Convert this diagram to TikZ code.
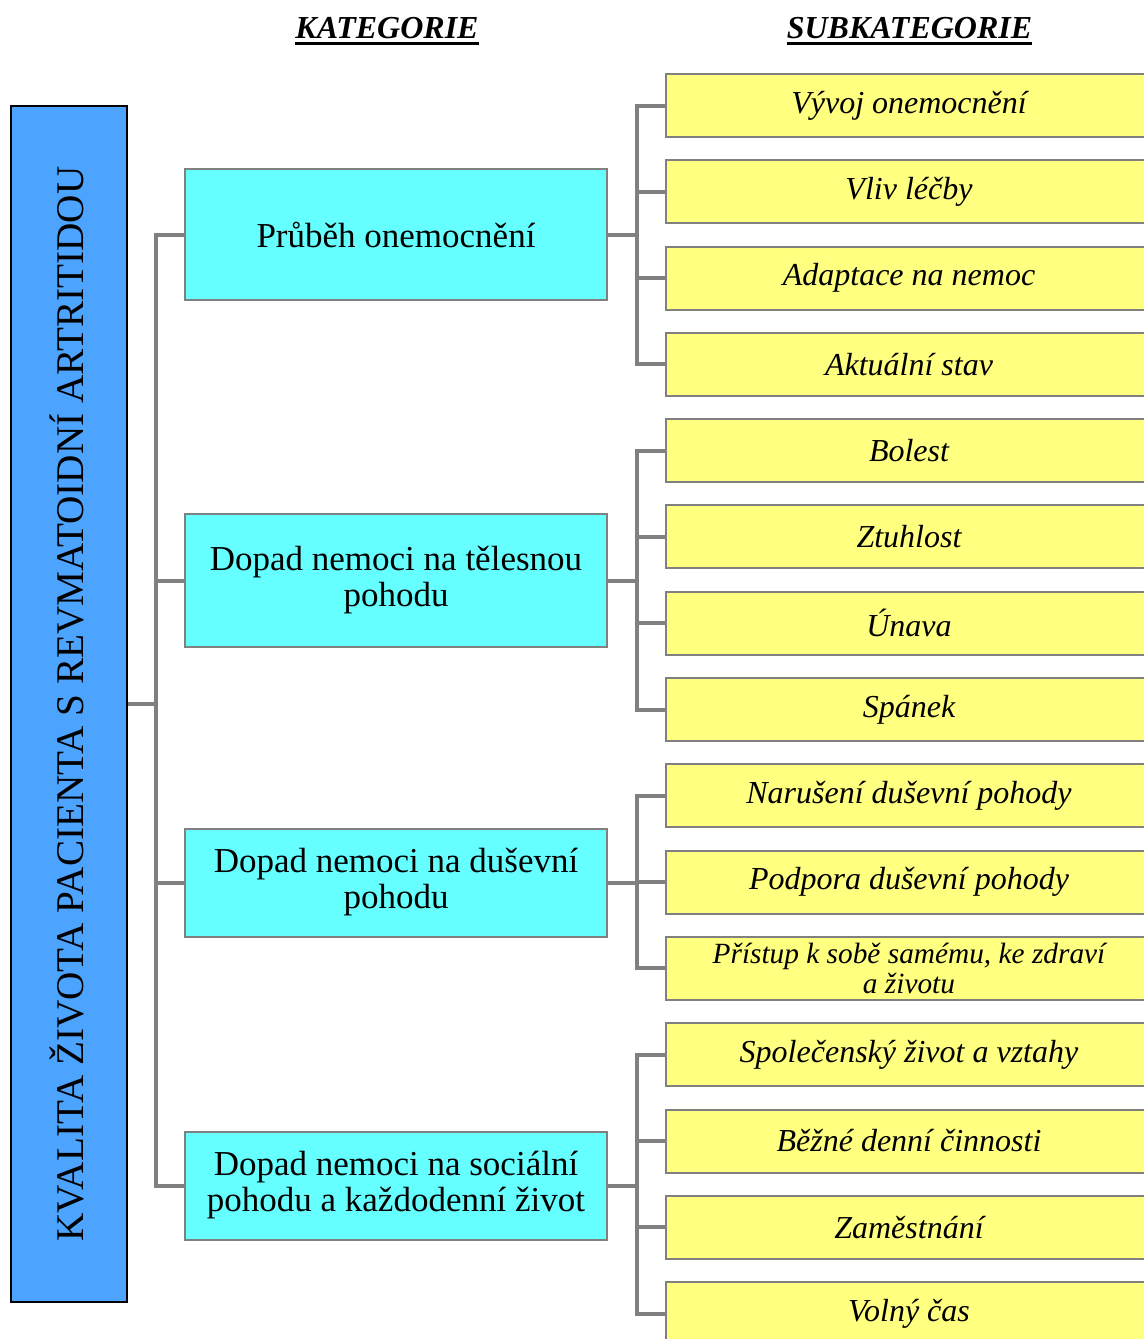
\documentclass[tikz,border=0pt]{standalone}
\usepackage{fontspec}
\setmainfont{Liberation Serif}
\usetikzlibrary{calc}
\definecolor{mainblue}{RGB}{77,164,255}
\definecolor{catcyan}{RGB}{102,255,255}
\definecolor{subyellow}{RGB}{255,255,128}
\definecolor{edgegray}{RGB}{128,128,128}
\definecolor{linegray}{RGB}{128,128,128}
\begin{document}
\begin{tikzpicture}[x=0.75pt,y=-0.75pt,
  conn/.style={draw=linegray,line width=3pt,line join=miter},
  rootbox/.style={draw=black,line width=1.5pt,fill=mainblue,rotate=90,
    minimum width=1196*0.75pt,minimum height=116*0.75pt,inner sep=0pt,
    text height=21pt,text depth=0pt,
    font=\fontsize{29.4}{31}\selectfont},
  catbox/.style={draw=edgegray,line width=1.5pt,fill=catcyan,
    minimum width=422*0.75pt,align=center,
    font=\fontsize{26.25}{27}\selectfont},
  subbox/.style={draw=edgegray,line width=1.5pt,fill=subyellow,
    minimum width=486*0.75pt,minimum height=63*0.75pt,align=center,
    font=\fontsize{24}{24}\selectfont\itshape},
  head/.style={font=\fontsize{24}{24}\selectfont\bfseries\itshape,
    inner sep=0pt,anchor=base}]
\useasboundingbox (0,0) rectangle (1143,1339);

% column headings
\node[head] (hk) at (387,38) {KATEGORIE};
\node[head] (hs) at (909.5,38) {SUBKATEGORIE};
\foreach \h in {hk,hs}
  \draw[line width=2.2pt] ([yshift=-3.8pt]\h.base west) -- ([yshift=-3.8pt]\h.base east);

% root
\node[rootbox] (L) at (69,704) {KVALITA ŽIVOTA PACIENTA S REVMATOIDNÍ ARTRITIDOU};

% categories
\node[catbox,minimum height=131*0.75pt] (c1) at (396,234.5) {Průběh onemocnění};
\node[catbox,minimum height=133*0.75pt] (c2) at (396,580.5) {Dopad nemoci na tělesnou\\pohodu};
\node[catbox,minimum height=108*0.75pt] (c3) at (396,882.5) {Dopad nemoci na duševní\\pohodu};
\node[catbox,minimum height=108*0.75pt] (c4) at (396,1185.5) {Dopad nemoci na sociální\\pohodu a každodenní život};

% subcategories
\node[subbox] (s1) at (909,105.5) {Vývoj onemocnění};
\node[subbox] (s2) at (909,191.8) {Vliv léčby};
\node[subbox] (s3) at (909,278.1) {Adaptace na nemoc};
\node[subbox] (s4) at (909,364.4) {Aktuální stav};
\node[subbox] (s5) at (909,450.7) {Bolest};
\node[subbox] (s6) at (909,536.9) {Ztuhlost};
\node[subbox] (s7) at (909,623.2) {Únava};
\node[subbox] (s8) at (909,709.5) {Spánek};
\node[subbox] (s9) at (909,795.8) {Narušení duševní pohody};
\node[subbox] (s10) at (909,882.1) {Podpora duševní pohody};
\node[subbox,font=\fontsize{22}{22.5}\selectfont\itshape] (s11) at (909,968.4) {Přístup k sobě samému, ke zdraví\\a životu};
\node[subbox] (s12) at (909,1054.7) {Společenský život a vztahy};
\node[subbox] (s13) at (909,1141.0) {Běžné denní činnosti};
\node[subbox] (s14) at (909,1227.3) {Zaměstnání};
\node[subbox] (s15) at (909,1313.6) {Volný čas};

% root to categories
\coordinate (j0) at ($(L.south)!.5!(L.south -| c1.west)$);
\foreach \c in {c1,c2,c3,c4}
  \draw[conn] (L.south) -- (j0) |- (\c.west);

% categories to subcategories
\foreach \c/\subs in {c1/{s1,s2,s3,s4},c2/{s5,s6,s7,s8},c3/{s9,s10,s11},c4/{s12,s13,s14,s15}}{
  \coordinate (j\c) at ($(\c.east)!.5!(\c.east -| s1.west)$);
  \foreach \s in \subs
    \draw[conn] (\c.east) -- (j\c) |- (\s.west);
}
\end{tikzpicture}
\end{document}
